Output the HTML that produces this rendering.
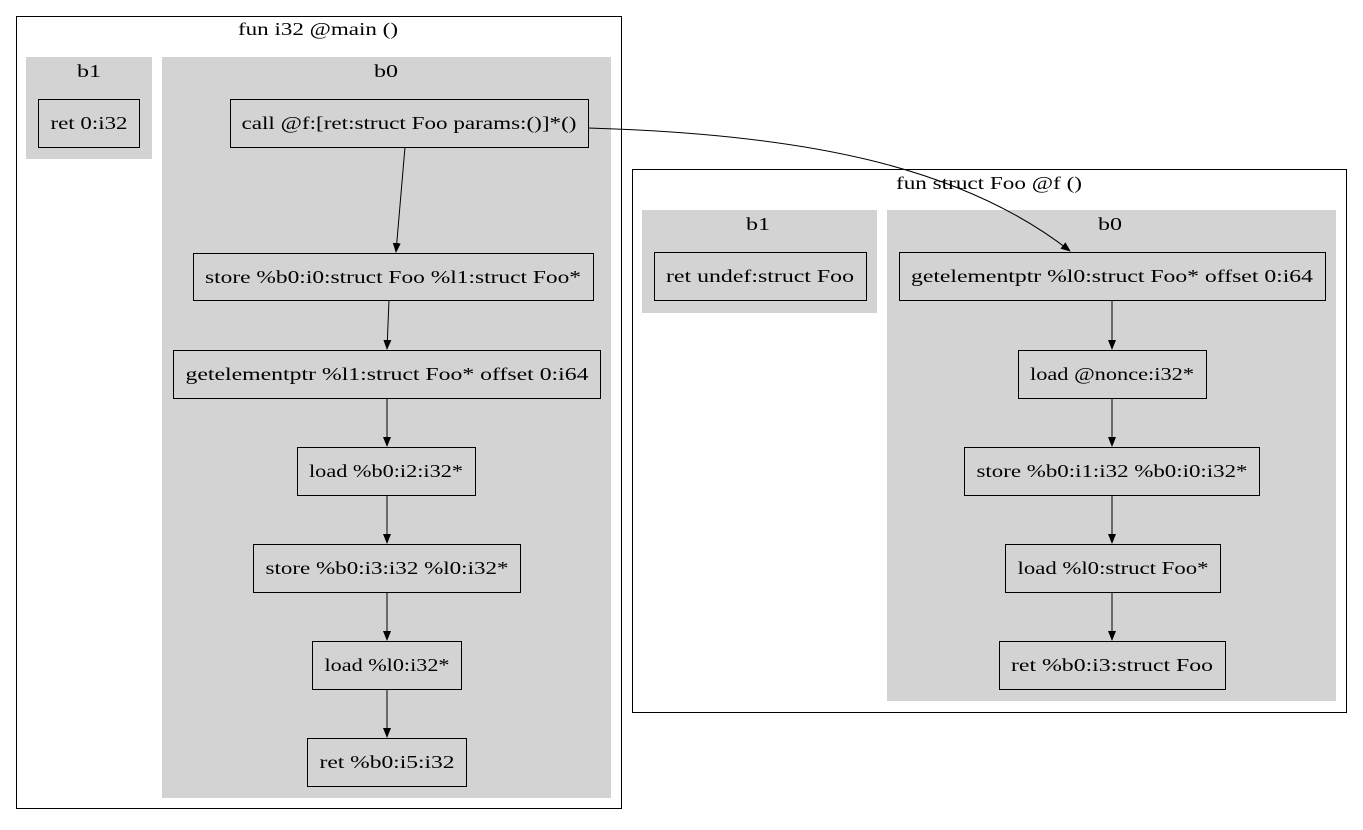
<!DOCTYPE html>
<html><head><meta charset="utf-8"><style>html,body{margin:0;padding:0;background:#fff}svg text{font-family:"Liberation Serif",serif;font-size:18px;fill:#000}</style></head>
<body>
<svg width="1363" height="825" viewBox="0 0 1363 825" xmlns="http://www.w3.org/2000/svg">
<defs><marker id="a" markerWidth="10" markerHeight="10" refX="9" refY="5" orient="auto" markerUnits="userSpaceOnUse"><path d="M0,1 L10,5 L0,9 z" fill="#000"/></marker></defs>
<g fill="none" stroke="#000" stroke-width="1">
<rect x="16.5" y="16.5" width="605" height="792"/>
<rect x="632.5" y="169.5" width="714" height="543"/>
</g>
<g fill="#d3d3d3">
<rect x="26" y="57" width="126" height="102"/>
<rect x="162" y="57" width="449" height="741"/>
<rect x="642" y="210" width="235" height="103"/>
<rect x="887" y="210" width="449" height="491"/>
</g>
<g text-anchor="middle" lengthAdjust="spacingAndGlyphs">
<text x="318" y="35" textLength="160" lengthAdjust="spacingAndGlyphs">fun i32 @main ()</text>
<text x="89" y="77" textLength="24" lengthAdjust="spacingAndGlyphs">b1</text>
<text x="386" y="77" textLength="24" lengthAdjust="spacingAndGlyphs">b0</text>
<text x="989" y="189" textLength="186" lengthAdjust="spacingAndGlyphs">fun struct Foo @f ()</text>
<text x="758" y="230" textLength="24" lengthAdjust="spacingAndGlyphs">b1</text>
<text x="1110" y="230" textLength="24" lengthAdjust="spacingAndGlyphs">b0</text>
</g>
<g fill="none" stroke="#000" stroke-width="1">
<rect x="38.5" y="99.5" width="101" height="48"/>
<rect x="230.5" y="99.5" width="358" height="48"/>
<rect x="193.5" y="253.5" width="400" height="47"/>
<rect x="173.5" y="350.5" width="427" height="48"/>
<rect x="297.5" y="447.5" width="178" height="48"/>
<rect x="253.5" y="544.5" width="267" height="48"/>
<rect x="312.5" y="641.5" width="149" height="48"/>
<rect x="307.5" y="738.5" width="159" height="48"/>
<rect x="654.5" y="252.5" width="212" height="48"/>
<rect x="899.5" y="252.5" width="426" height="48"/>
<rect x="1018.5" y="350.5" width="188" height="48"/>
<rect x="964.5" y="447.5" width="295" height="48"/>
<rect x="1005.5" y="544.5" width="215" height="48"/>
<rect x="999.5" y="641.5" width="226" height="48"/>
<path d="M405,147 L396,252" marker-end="url(#a)"/>
<path d="M389,300 L387,349" marker-end="url(#a)"/>
<path d="M387,398 L387,446" marker-end="url(#a)"/>
<path d="M387,495 L387,543" marker-end="url(#a)"/>
<path d="M387,592 L387,640" marker-end="url(#a)"/>
<path d="M387,689 L387,737" marker-end="url(#a)"/>
<path d="M1112,300 L1112,349" marker-end="url(#a)"/>
<path d="M1112,398 L1112,446" marker-end="url(#a)"/>
<path d="M1112,495 L1112,543" marker-end="url(#a)"/>
<path d="M1112,592 L1112,640" marker-end="url(#a)"/>
<path d="M588,128 C 800,134 960,165 1070,251" marker-end="url(#a)"/>
</g>
<g text-anchor="middle">
<text x="89" y="129" textLength="77" lengthAdjust="spacingAndGlyphs">ret 0:i32</text>
<text x="409" y="129" textLength="335" lengthAdjust="spacingAndGlyphs">call @f:[ret:struct Foo params:()]*()</text>
<text x="393" y="283" textLength="376" lengthAdjust="spacingAndGlyphs">store %b0:i0:struct Foo %l1:struct Foo*</text>
<text x="387" y="380" textLength="403" lengthAdjust="spacingAndGlyphs">getelementptr %l1:struct Foo* offset 0:i64</text>
<text x="386" y="477" textLength="154" lengthAdjust="spacingAndGlyphs">load %b0:i2:i32*</text>
<text x="387" y="574" textLength="243" lengthAdjust="spacingAndGlyphs">store %b0:i3:i32 %l0:i32*</text>
<text x="387" y="671" textLength="125" lengthAdjust="spacingAndGlyphs">load %l0:i32*</text>
<text x="387" y="768" textLength="135" lengthAdjust="spacingAndGlyphs">ret %b0:i5:i32</text>
<text x="760" y="282" textLength="188" lengthAdjust="spacingAndGlyphs">ret undef:struct Foo</text>
<text x="1112" y="282" textLength="402" lengthAdjust="spacingAndGlyphs">getelementptr %l0:struct Foo* offset 0:i64</text>
<text x="1112" y="380" textLength="164" lengthAdjust="spacingAndGlyphs">load @nonce:i32*</text>
<text x="1112" y="477" textLength="271" lengthAdjust="spacingAndGlyphs">store %b0:i1:i32 %b0:i0:i32*</text>
<text x="1113" y="574" textLength="191" lengthAdjust="spacingAndGlyphs">load %l0:struct Foo*</text>
<text x="1112" y="671" textLength="202" lengthAdjust="spacingAndGlyphs">ret %b0:i3:struct Foo</text>
</g>
</svg>
</body></html>
